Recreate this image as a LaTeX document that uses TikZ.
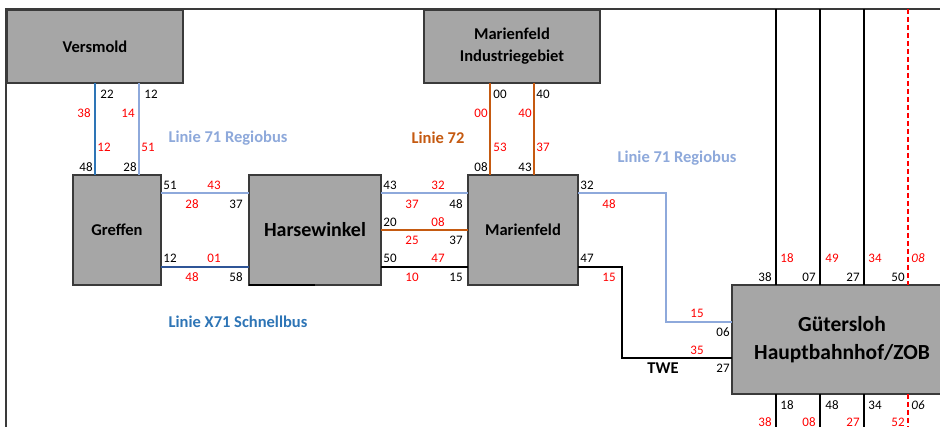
\documentclass[tikz,border=0pt]{standalone}
\usepackage{fontspec}
\setmainfont{Carlito}
\definecolor{cregio}{HTML}{8EA9DB}
\definecolor{cx}{HTML}{2E75B6}
\definecolor{cxdark}{HTML}{2F5597}
\definecolor{corange}{HTML}{C55A11}
\definecolor{numred}{HTML}{FF0000}
\definecolor{boxfill}{HTML}{A6A6A6}
\definecolor{boxline}{HTML}{3A3A3A}
\begin{document}
\begin{tikzpicture}[x=1pt,y=-1pt,
  box/.style={draw=boxline, fill=boxfill, line width=1.5pt, outer sep=0pt, inner sep=0pt, font=\bfseries\fontsize{16.5}{22}\selectfont, align=center},
  num/.style={font=\fontsize{13}{15}\selectfont, inner sep=0pt, text=black},
  rnum/.style={num, text=numred},
  inum/.style={num, font=\itshape\fontsize{13}{15}\selectfont},
  rinum/.style={rnum, font=\itshape\fontsize{13}{15}\selectfont},
  lab/.style={font=\bfseries\fontsize{16.5}{20}\selectfont, inner sep=0pt},
  regio/.style={draw=cregio, line width=1.5pt},
  xline/.style={draw=cx, line width=1.5pt},
  xdline/.style={draw=cxdark, line width=1.5pt},
  oline/.style={draw=corange, line width=1.5pt},
  bline/.style={draw=black, line width=1.3pt},
  rdash/.style={draw=numred, line width=1.3pt, dash pattern=on 5pt off 3pt},
  frame/.style={draw=boxline, line width=1.8pt}
]
\useasboundingbox (0,0) rectangle (940,427);
\clip (0,0) rectangle (940,427);
\fill[white] (0,0) rectangle (940,427);

% frame
\coordinate (ftr) at (940,9);
\coordinate (ftl) at (6,9);
\coordinate (fbl) at (6,427);
\draw[frame] (ftr) -- (ftl) -- (fbl);

% boxes
\node[box, minimum width=176pt, minimum height=73pt] (ver) at (95,46.5) {Versmold};
\node[box, minimum width=88pt, minimum height=110pt] (gre) at (117,230) {Greffen};
\node[box, minimum width=132pt, minimum height=110pt, font=\bfseries\fontsize{20}{24}\selectfont] (har) at (315,230) {Harsewinkel};
\node[box, minimum width=110pt, minimum height=110pt] (mar) at (523,230) {Marienfeld};
\node[box, minimum width=176pt, minimum height=73pt] (mig) at (512,46.5) {Marienfeld\\Industriegebiet};
\node[box, minimum width=220pt, minimum height=109pt, font=\bfseries\fontsize{21.5}{28}\selectfont] (gue) at (842,339.5) {Gütersloh\\Hauptbahnhof/ZOB};
\draw[black, line width=2.5pt] (har.south west) -- (har.south -| 315,0);

% Versmold - Greffen
\draw[xline] (ver.south -| 95,0) -- (gre.north -| 95,0);
\draw[regio] (ver.south -| 139,0) -- (gre.north -| 139,0);
% Greffen - Harsewinkel
\draw[regio] (gre.east |- 0,193) -- (har.west |- 0,193);
\draw[xdline] (gre.east |- 0,267) -- (har.west |- 0,267);
% Harsewinkel - Marienfeld
\draw[regio] (har.east |- 0,193) -- (mar.west |- 0,193);
\draw[oline] (har.east |- 0,230) -- (mar.west |- 0,230);
\draw[bline] (har.east |- 0,267) -- (mar.west |- 0,267);
% Industriegebiet - Marienfeld
\draw[oline] (mig.south -| 490,0) -- (mar.north -| 490,0);
\draw[oline] (mig.south -| 534,0) -- (mar.north -| 534,0);
% Marienfeld - Guetersloh
\draw[regio] (mar.east |- 0,193) -| (666,322) -- (gue.west |- 0,322);
\draw[bline] (mar.east |- 0,267) -| (622,358) -- (gue.west |- 0,358);
% Guetersloh verticals
\foreach \xx in {776,820,864} {
  \draw[bline] (\xx,9) -- (gue.north -| \xx,0);
  \draw[bline] (gue.south -| \xx,0) -- (\xx,427);
}
\draw[rdash] (908,9) -- (gue.north -| 908,0);
\draw[rdash] (gue.south -| 908,0) -- (908,427);

% Versmold labels
\node[num] at (107,94) {22};
\node[num] at (151,94) {12};
\node[rnum] at (84,113) {38};
\node[rnum] at (128,113) {14};
\node[rnum] at (104,147) {12};
\node[rnum] at (148,147) {51};
\node[num] at (86,167) {48};
\node[num] at (130,167) {28};
\node[lab, text=cregio] at (228,138) {Linie 71 Regiobus};

% Greffen - Harsewinkel labels
\node[num] at (170,185) {51};
\node[rnum] at (214,185) {43};
\node[rnum] at (192,204) {28};
\node[num] at (236,204) {37};
\node[num] at (170,258) {12};
\node[rnum] at (214,258) {01};
\node[rnum] at (192,277) {48};
\node[num] at (236,277) {58};
\node[lab, text=cx] at (238,322) {Linie X71 Schnellbus};

% Harsewinkel - Marienfeld labels
\node[num] at (390,185) {43};
\node[rnum] at (438,185) {32};
\node[rnum] at (412,204) {37};
\node[num] at (456,204) {48};
\node[num] at (390,222) {20};
\node[rnum] at (438,222) {08};
\node[rnum] at (412,240) {25};
\node[num] at (456,240) {37};
\node[num] at (390,258) {50};
\node[rnum] at (438,258) {47};
\node[rnum] at (412,277) {10};
\node[num] at (456,277) {15};

% Industriegebiet labels
\node[num] at (500,94) {00};
\node[num] at (543,94) {40};
\node[rnum] at (481,113) {00};
\node[rnum] at (525,113) {40};
\node[rnum] at (500,147) {53};
\node[rnum] at (543,147) {37};
\node[num] at (481,167) {08};
\node[num] at (525,167) {43};
\node[lab, text=corange] at (438,138) {Linie 72};

% Marienfeld - Guetersloh labels
\node[lab, text=cregio] at (677,158) {Linie 71 Regiobus};
\node[num] at (587,185) {32};
\node[rnum] at (609,204) {48};
\node[num] at (587,258) {47};
\node[rnum] at (609,277) {15};
\node[rnum] at (697,313) {15};
\node[num] at (723,332) {06};
\node[rnum] at (697,350) {35};
\node[num] at (723,368) {27};
\node[lab] at (663,368) {TWE};

% Guetersloh top labels
\node[rnum] at (787,258) {18};
\node[rnum] at (832,258) {49};
\node[rnum] at (875,258) {34};
\node[rinum] at (918,258) {08};
\node[num] at (765,277) {38};
\node[num] at (809,277) {07};
\node[num] at (853,277) {27};
\node[num] at (898,277) {50};
% Guetersloh bottom labels
\node[num] at (787,405) {18};
\node[num] at (832,405) {48};
\node[num] at (875,405) {34};
\node[inum] at (918,405) {06};
\node[rnum] at (765,422) {38};
\node[rnum] at (809,422) {08};
\node[rnum] at (853,422) {27};
\node[rnum] at (898,422) {52};
\end{tikzpicture}
\end{document}
